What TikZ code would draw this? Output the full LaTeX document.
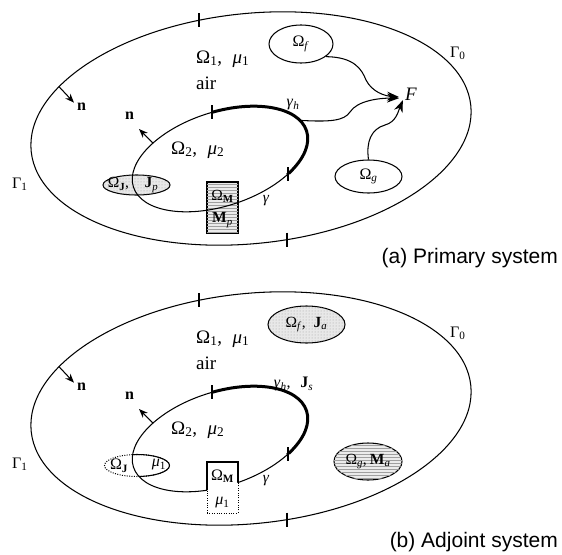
\documentclass[tikz,border=0pt]{standalone}
\usepackage{fontspec}
\setmainfont{Liberation Serif}
\newfontfamily\capfont{Liberation Sans}
\usetikzlibrary{patterns,intersections,calc,arrows.meta,shapes.geometric}

\newcommand\lsub[1]{\textsubscript{#1}}
\newcommand\fs[1]{\fontsize{#1}{#1}\selectfont}

\tikzset{
  bnd/.style={line width=1.05pt},
  bold bnd/.style={line width=3pt},
  tickmark/.style={line width=1.05pt},
  lbl/.style={inner sep=0pt, font=\fs{19}},
  mid/.style={inner sep=0pt, font=\fs{16}},
  sml/.style={inner sep=0pt, font=\fs{15.5}},
  nlbl/.style={inner sep=0pt, font=\bfseries\fs{16}},
  captiontext/.style={inner sep=0pt, font=\capfont\fs{21}},
  dotfill/.style={fill=gray!18, postaction={pattern=dots, pattern color=gray!75}},
  hfill/.style={fill=gray!16, postaction={pattern=horizontal lines, pattern color=gray!75}},
  dotline/.style={line width=1pt, dash pattern=on 1pt off 1.4pt},
  narr/.style={-{Stealth[length=9pt,width=7pt]}, line width=1.05pt},
  farr/.style={-{Stealth[length=12pt,width=9pt]}, line width=1.05pt},
  region/.style={ellipse, draw, line width=1.05pt, inner sep=0pt},
  boxregion/.style={rectangle, draw, line width=1.05pt, inner sep=0pt,
                    minimum width=31, minimum height=51},
}

% outer domain, inner domain, boundary marks, normals and common labels
\newcommand\drawsystem[1]{%
  \draw[bnd, shift={(251,128.5)}, rotate=6, name path global=outer#1]
    (0,0) ellipse [x radius=221, y radius=115];
  \draw[bnd, shift={(220,159)}, rotate=18, name path global=inner#1]
    (0,0) ellipse [x radius=91, y radius=47];
  \coordinate (ic#1) at (220,159);
  \path[name path global=va#1] (199,0) -- (199,60);
  \path[name path global=vb#1] (287,200) -- (287,270);
  \path[name path global=vc#1] (212,85) -- (212,135);
  \path[name path global=vd#1] (288,160) -- (288,205);
  \path[name intersections={of=outer#1 and va#1, by=ta#1}];
  \path[name intersections={of=outer#1 and vb#1, by=tb#1}];
  \path[name intersections={of=inner#1 and vc#1, by=tc#1}];
  \path[name intersections={of=inner#1 and vd#1, by=td#1}];
  \foreach \t in {ta#1,tb#1,tc#1,td#1}
    \draw[tickmark] ($(\t)+(0,-7)$) -- ($(\t)+(0,7)$);
  % heavy part of the inner boundary
  \begin{scope}
    \clip (ic#1) -- ($(ic#1)!3!(tc#1)$) -- (450,-10) -- (450,230)
      -- ($(ic#1)!3!(td#1)$) -- cycle;
    \draw[bold bnd, shift={(220,159)}, rotate=18]
      (0,0) ellipse [x radius=91, y radius=47];
  \end{scope}
  % outward normals
  \path[name path global=vn#1] (59,40) -- (59,128);
  \path[name intersections={of=outer#1 and vn#1, by=na#1}];
  \draw[narr] (na#1) -- ++(15,16);
  \node[nlbl] (nO#1) at (81.5,107) {n};
  \path[name path global=vm#1] (153,100) -- (153,159);
  \path[name intersections={of=inner#1 and vm#1, by=nb#1}];
  \draw[narr] (nb#1) -- ++(-14,-14);
  \node[nlbl] (nI#1) at (129.5,116) {n};
  % labels
  \node[lbl, anchor=base west] (om1#1) at (196,63) {Ω\lsub{1},\hspace{0.55em}\textit{μ}\lsub{1}};
  \node[lbl, anchor=base west] (air#1) at (196,89) {air};
  \node[lbl, anchor=base west] (om2#1) at (171,154) {Ω\lsub{2},\hspace{0.55em}\textit{μ}\lsub{2}};
  \node[mid, anchor=base west] (g0#1) at (450,57) {Γ\lsub{0}};
  \node[mid, anchor=base west] (g1#1) at (12,188) {Γ\lsub{1}};
  \node[sml] (gam#1) at (266,201) {\textit{γ}};
}

\begin{document}
\begin{tikzpicture}[x=1pt,y=-1pt]
\useasboundingbox (0,0) rectangle (562,554);
\fill[white] (0,0) rectangle (562,554);

% ---------- primary system ----------
\node[region, dotfill, minimum width=67, minimum height=20] (ojA) at (136.5,185) {};
\node[boxregion, hfill] (omA) at (222.5,207.5) {};
\drawsystem{A}
\node[sml] (ojtA) at (133,185) {Ω\lsub{\textbf{J}},\hspace{1.0em}\textbf{J}\lsub{\textit{p}}};
\node[sml] (omtA) at (222.5,196) {Ω\lsub{\textbf{M}}};
\node[sml] (mpA) at (222.5,220) {\textbf{M}\lsub{\textit{p}}};
\node[mid] (ghA) at (293,105) {\textit{γ}\lsub{\textit{h}}};

\node[region, minimum width=64, minimum height=38, mid] (of) at (301,44) {Ω\lsub{\textit{f}}\hspace{0.6em}};
\node[region, minimum width=67, minimum height=33, mid] (og) at (368.5,176.5) {Ω\lsub{\textit{g}}};
\node[lbl, inner xsep=6pt, inner ysep=0pt, anchor=base west] (F) at (399,100) {\textit{F}};

\path[name path global=vh] (300,95) -- (300,140);
\path[name intersections={of=innerA and vh, by=ghs}];

\draw[farr] (of.-27) .. controls (355,57) and (362,70) .. (366,80)
  .. controls (372,92) and (385,96) .. (F.195);
\draw[farr] (ghs) .. controls (330,122) and (344,121) .. (350,112)
  .. controls (357,101) and (378,98) .. (F.200);
\draw[farr] (og.north) .. controls (366,142) and (371,129) .. (385,125)
  .. controls (396,122) and (398,112) .. (F.218);

\node[captiontext, anchor=base east] (capA) at (558,263) {(a) Primary system};

% ---------- adjoint system ----------
\begin{scope}[shift={(0,280)}]
  \drawsystem{B}
  % magnet region: the part outside the inner domain is air
  \node[boxregion, fill=white, dotline] (omB) at (222.5,207.5) {};
  \begin{scope}
    \clip[shift={(220,159)}, rotate=18] (0,0) ellipse [x radius=91, y radius=47];
    \node[boxregion] at (omB.center) {};
  \end{scope}
  % coil region: the part inside the inner domain is solid
  \node[region, dotline, minimum width=65, minimum height=22] (ojB) at (137,185.5) {};
  \begin{scope}
    \clip[shift={(220,159)}, rotate=18] (0,0) ellipse [x radius=91, y radius=47];
    \node[region, minimum width=65, minimum height=22] at (ojB.center) {};
  \end{scope}
  \node[mid] (ojtB) at (119,186) {Ω\lsub{\textbf{J}}};
  \node[mid] (mu1B) at (159,185) {\textit{μ}\lsub{1}};
  \node[mid] (omtB) at (222.5,196) {Ω\lsub{\textbf{M}}};
  \node[mid] (mu2B) at (222.5,223) {\textit{μ}\lsub{1}};
  \node[mid] (ghB) at (293.5,104) {\textit{γ}\lsub{\textit{h}},\hspace{0.6em}\textbf{J}\lsub{\textit{s}}};

  \node[region, dotfill, minimum width=77, minimum height=37, sml] (ofB)
    at (306.5,44.5) {Ω\lsub{\textit{f}},\hspace{0.5em}\textbf{J}\lsub{\textit{a}}};
  \node[region, hfill, minimum width=68, minimum height=37, sml] (ogB)
    at (368,181.5) {Ω\lsub{\textit{g}},\hspace{0.2em}\textbf{M}\lsub{\textit{a}}};
\end{scope}

\node[captiontext, anchor=base east] (capB) at (558,547) {(b) Adjoint system};
\end{tikzpicture}
\end{document}
